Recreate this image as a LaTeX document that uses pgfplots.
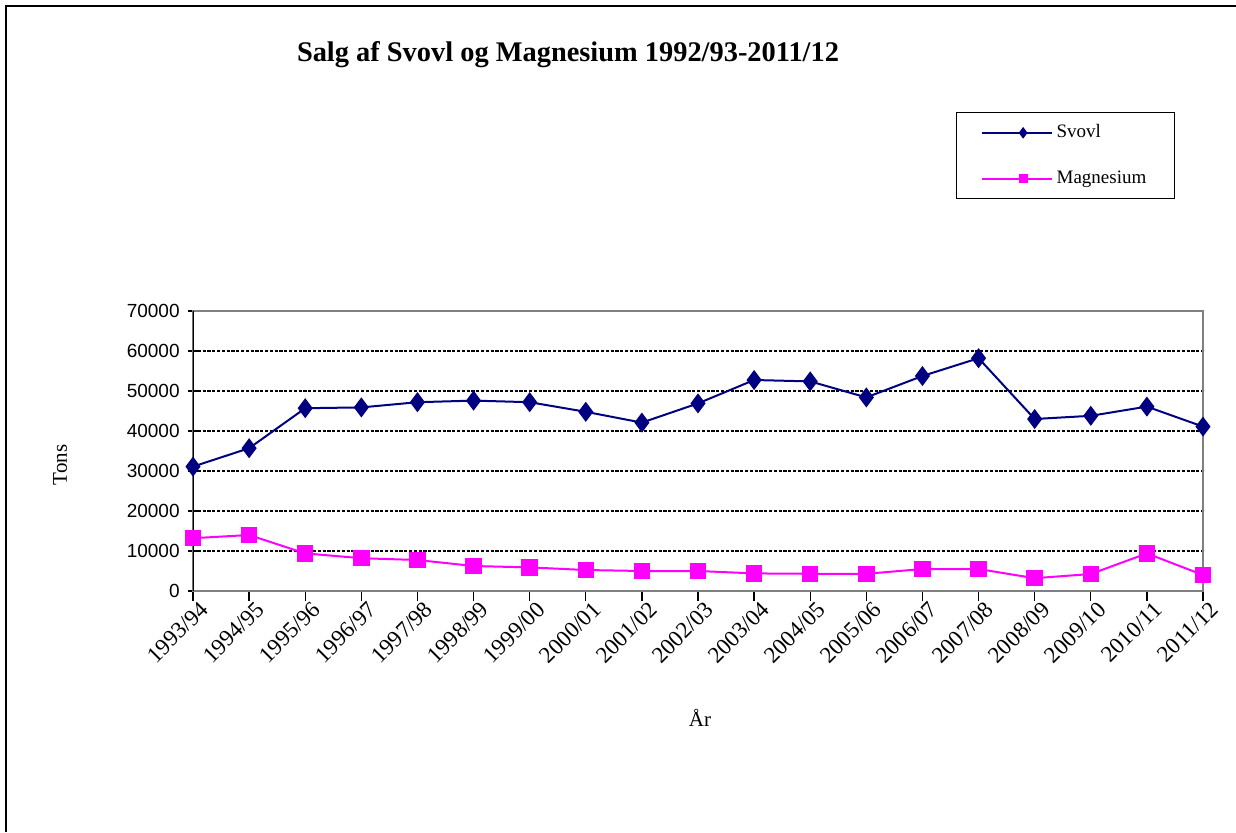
\documentclass[border=0pt]{standalone}
\usepackage{pgfplots}
\pgfplotsset{compat=1.18}
\usepackage{fontspec}
\setmainfont{Liberation Serif}
\setsansfont{Liberation Sans}
\definecolor{svovl}{RGB}{0,0,128}
\definecolor{magn}{RGB}{255,0,255}
\definecolor{axgray}{RGB}{128,128,128}
\begin{document}
\begin{tikzpicture}
\useasboundingbox (0,0) rectangle (618pt,416pt);
\fill[white] (0,0) rectangle (618pt,416pt);
\draw[black, line width=1.1pt] (3pt,0pt) -- (3pt,413pt) -- (618pt,413pt);
\node[font=\bfseries\fontsize{14.2}{14.2}\selectfont, anchor=center] at (284pt,388.5pt) {Salg af Svovl og Magnesium 1992/93-2011/12};
\begin{axis}[
  at={(96.5pt,120.5pt)}, anchor=south west,
  scale only axis, width=505pt, height=140pt,
  xmin=0, xmax=18, ymin=0, ymax=70000,
  axis line style={draw=axgray, line width=1pt},
  xtick={0,...,18},
  xticklabels={1993/94,1994/95,1995/96,1996/97,1997/98,1998/99,1999/00,2000/01,2001/02,2002/03,2003/04,2004/05,2005/06,2006/07,2007/08,2008/09,2009/10,2010/11,2011/12},
  xticklabel style={rotate=45, anchor=north east, font=\fontsize{11.5}{11.5}\selectfont, inner sep=0.5pt, xshift=3pt, yshift=-1pt},
  x tick style={black, line width=0.7pt},
  xtick align=outside,
  xtick pos=bottom,
  ytick={0,10000,...,70000},
  ytick align=center,
  ytick pos=left,
  y tick style={black, line width=0.7pt},
  major tick length=5pt,
  /pgf/number format/assume math mode=true,
  /pgf/number format/set thousands separator={},
  scaled y ticks=false,
  yticklabel style={font=\sffamily\fontsize{9.5}{9.5}\selectfont, inner sep=1pt, xshift=-3pt},
  ymajorgrids,
  major grid style={black, line width=0.55pt, dash pattern=on 1.6pt off 0.8pt},
  xlabel={År},
  xlabel style={at={(axis description cs:0.502,-0.4536)}, anchor=center, font=\fontsize{10.5}{10.5}\selectfont},
  ylabel={Tons},
  ylabel style={at={(axis description cs:-0.1317,0.45)}, anchor=center, font=\fontsize{10.5}{10.5}\selectfont},
  legend style={at={(axis description cs:0.9723,1.7107)}, anchor=north east, draw=black, line width=0.7pt, inner xsep=12pt, inner ysep=4pt, row sep=11pt, font=\fontsize{9.5}{9.5}\selectfont},
  legend cell align=left,
  legend image code/.code={\path (0pt,0pt) -- (35pt,0pt); \draw[#1, every mark/.append style={scale=0.5}, mark repeat=2, mark phase=2] plot coordinates {(6.5pt,0pt) (20.75pt,0pt) (35pt,0pt)};},
]
\addplot[svovl, line width=1pt, mark=diamond*, mark size=4.2pt, mark options={fill=svovl, draw=svovl}] coordinates {
(0,31100) (1,35700) (2,45700) (3,45900) (4,47200) (5,47600) (6,47200) (7,44800) (8,42100) (9,46900)
(10,52750) (11,52400) (12,48400) (13,53750) (14,58200) (15,43000) (16,43800) (17,46100) (18,41100)};
\addlegendentry{Svovl}
\addplot[magn, line width=1pt, mark=square*, mark size=3.6pt, mark options={fill=magn, draw=magn}] coordinates {
(0,13200) (1,14000) (2,9400) (3,8200) (4,7750) (5,6250) (6,5900) (7,5250) (8,5000) (9,5000)
(10,4400) (11,4300) (12,4300) (13,5500) (14,5500) (15,3200) (16,4250) (17,9400) (18,4000)};
\addlegendentry{Magnesium}
\draw[black, line width=1.1pt] (rel axis cs:0,0) -- (rel axis cs:0,1);
\end{axis}
\end{tikzpicture}
\end{document}
